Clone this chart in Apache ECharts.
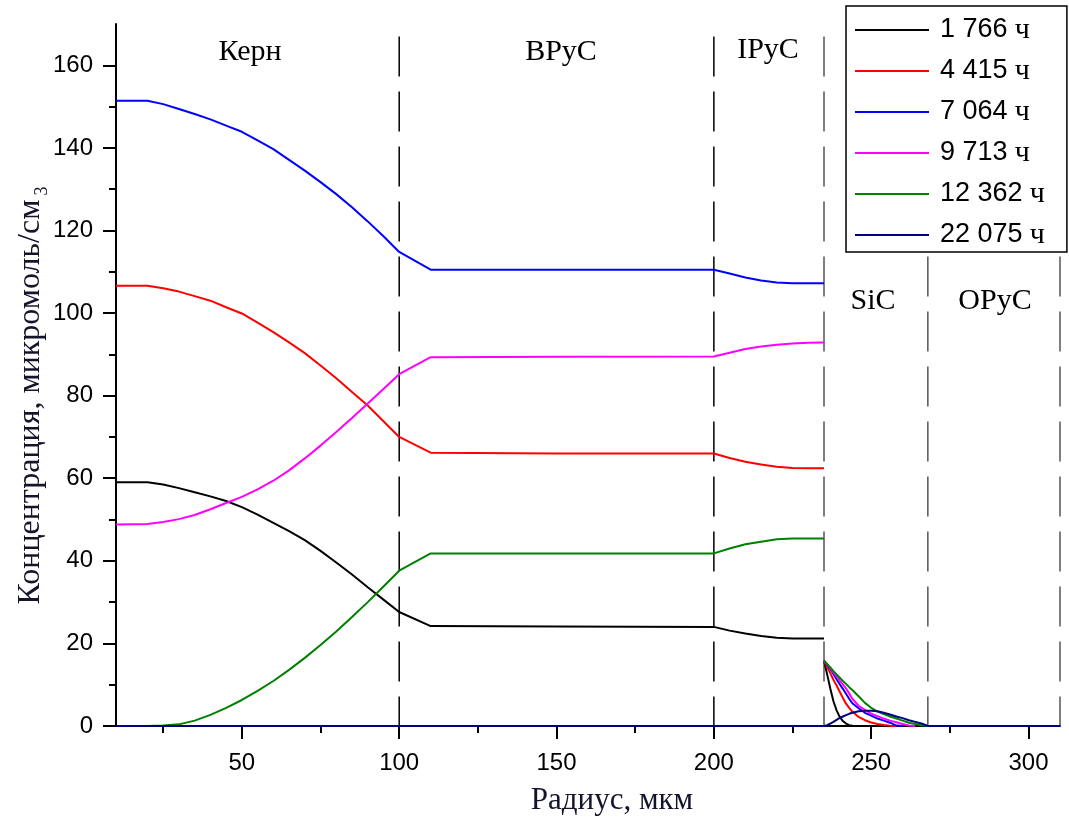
<!DOCTYPE html>
<html>
<head>
<meta charset="utf-8">
<script src="https://cdn.jsdelivr.net/npm/echarts@6/dist/echarts.min.js"></script>
<style>
  html, body { margin: 0; padding: 0; background: #fff; }
  #chart { width: 1069px; height: 820px; }
</style>
</head>
<body>
<div id="chart"></div>
<script>
// Radial positions (мкм) through kernel, buffer and IPyC layers
const radiusInner = [10, 20, 25, 30, 35, 40, 45, 50, 55, 60, 65, 70, 75, 80, 85, 90, 95, 100,
                     110, 150, 200, 205, 210, 215, 220, 225, 230, 235];
// Radial positions inside SiC layer
const radiusSiC = [235, 236, 237, 238, 239, 240, 241, 242, 243, 244, 246, 248, 250, 252, 254,
                   256, 258, 260, 262, 264, 266, 268];
const radiusOuterEnd = 310;

// Series labels (hours)
const seriesNames = ['1 766', '4 415', '7 064', '9 713', '12 362', '22 075'];
const seriesColors = ['#000000', '#ff0000', '#0000ff', '#ff00ff', '#008000', '#000080'];

// Concentrations, мкмоль/см3 — kernel/buffer/IPyC
const inner1766 = [59.0, 59.0, 58.5, 57.6, 56.6, 55.6, 54.5, 53.0, 51.2, 49.2, 47.2, 45.0, 42.4, 39.6,
                   36.7, 33.6, 30.6, 27.6, 24.2, 24.1, 24.0, 23.1, 22.4, 21.8, 21.4, 21.2, 21.2, 21.2];
const inner4415 = [106.6, 106.6, 106.0, 105.2, 104.1, 103.0, 101.4, 99.9, 97.7, 95.4, 92.9, 90.3, 87.3, 84.2,
                   80.9, 77.6, 73.8, 70.0, 66.2, 66.0, 66.0, 64.9, 64.0, 63.3, 62.8, 62.5, 62.4, 62.4];
const inner7064 = [151.4, 151.4, 150.6, 149.4, 148.2, 146.9, 145.4, 143.9, 141.8, 139.7, 137.1, 134.5, 131.7, 128.8,
                   125.6, 122.2, 118.6, 114.8, 110.5, 110.5, 110.5, 109.6, 108.6, 107.9, 107.4, 107.2, 107.2, 107.2];
const inner9713 = [48.8, 48.9, 49.4, 50.1, 51.1, 52.5, 54.0, 55.5, 57.3, 59.4, 61.9, 64.8, 67.9, 71.2,
                   74.6, 78.1, 81.6, 85.2, 89.3, 89.4, 89.5, 90.4, 91.3, 91.9, 92.3, 92.6, 92.8, 92.9];
const inner12362 = [0, 0, 0.1, 0.4, 1.3, 2.7, 4.4, 6.3, 8.5, 10.9, 13.6, 16.5, 19.6, 22.9,
                    26.4, 30.0, 33.8, 37.6, 41.8, 41.8, 41.8, 43.0, 44.0, 44.6, 45.2, 45.4, 45.4, 45.4];
const inner22075 = [0, 0, 0, 0, 0, 0, 0, 0, 0, 0, 0, 0, 0, 0,
                    0, 0, 0, 0, 0, 0, 0, 0, 0, 0, 0, 0, 0, 0];

// Concentrations in SiC layer
const sic1766 = [15.8, 12.5, 9.1, 6.0, 3.8, 2.2, 1.2, 0.6, 0.2, 0.05, 0, 0, 0, 0, 0, 0, 0, 0, 0, 0, 0, 0];
const sic4415 = [15.8, 14.3, 12.8, 11.2, 9.8, 8.3, 6.8, 5.4, 4.4, 3.5, 2.2, 1.4, 0.85, 0.5, 0.25, 0.05, 0, 0, 0, 0, 0, 0];
const sic7064 = [15.8, 14.8, 13.8, 12.6, 11.3, 10.1, 9.0, 7.8, 6.6, 5.5, 4.3, 3.2, 2.5, 1.8, 1.3, 0.8, 0.1, 0, 0, 0, 0, 0];
const sic9713 = [15.8, 14.9, 14.0, 13.0, 12.0, 11.0, 10.1, 9.1, 7.9, 6.6, 4.9, 3.9, 3.0, 2.4, 1.8, 1.3, 0.9, 0.5, 0.1, 0, 0, 0];
const sic12362 = [15.8, 15.0, 14.2, 13.3, 12.5, 11.7, 10.9, 10.2, 9.4, 8.7, 7.2, 5.6, 4.4, 3.5, 2.9, 2.3, 1.8, 1.3, 0.8, 0.5, 0.2, 0];
const sic22075 = [0, 0.2, 0.6, 1.0, 1.5, 1.95, 2.3, 2.65, 2.95, 3.2, 3.55, 3.7, 3.7, 3.55, 3.2, 2.8, 2.3, 1.9, 1.4, 1.0, 0.6, 0];

// Layer boundaries (мкм)
const boundaries = [100, 200, 235, 268, 310];
const boundaryColors = ['#000000', '#000000', '#555555', '#555555', '#555555'];
const boundaryTop = 167;

// Axis ticks
const xMajorTicks = [50, 100, 150, 200, 250, 300];
const xMinorTicks = [25, 75, 125, 175, 225, 275];
const yMajorTicks = [0, 20, 40, 60, 80, 100, 120, 140, 160];
const yMinorTicks = [10, 30, 50, 70, 90, 110, 130, 150];

const innerSets = [inner1766, inner4415, inner7064, inner9713, inner12362, inner22075];
const sicSets = [sic1766, sic4415, sic7064, sic9713, sic12362, sic22075];

const SANS = '"Liberation Sans", Arial, sans-serif';
const SERIF = '"Liberation Serif", "Times New Roman", serif';
const TITLE_COLOR = '#14142a';

function buildData(idx) {
  const data = radiusInner.map((r, k) => [r, innerSets[idx][k]]);
  const isLast = idx === innerSets.length - 1;
  if (!isLast) data.push([radiusSiC[0], '-']);
  const sic = sicSets[idx];
  for (let k = 0; k < radiusSiC.length; k++) {
    data.push([radiusSiC[k], sic[k]]);
    if (!isLast && k > 0 && sic[k] === 0) break;
  }
  if (isLast) data.push([radiusOuterEnd, 0]);
  return data;
}

const series = [];
boundaries.forEach((b, i) => {
  series.push({
    name: 'boundary' + i,
    type: 'line',
    data: [[b, boundaryTop], [b, 0]],
    showSymbol: false,
    silent: true,
    clip: false,
    z: 1,
    lineStyle: { color: boundaryColors[i], width: 1.5, type: [40, 15] }
  });
});
seriesNames.forEach((name, i) => {
  series.push({
    name: name,
    type: 'line',
    data: buildData(i),
    showSymbol: false,
    connectNulls: false,
    z: 3,
    color: seriesColors[i],
    lineStyle: { color: seriesColors[i], width: 2 }
  });
});

const chart = echarts.init(document.getElementById('chart'), null, { renderer: 'canvas' });
chart.setOption({
  animation: false,
  backgroundColor: '#ffffff',
  grid: { left: 116, right: 9, top: 24, bottom: 94 },
  xAxis: [
    {
      type: 'value', min: 10, max: 310, position: 'bottom',
      axisLine: { lineStyle: { color: '#000', width: 2 } },
      axisTick: { customValues: xMajorTicks, length: 13, lineStyle: { color: '#000', width: 2 } },
      axisLabel: { customValues: xMajorTicks, fontSize: 24, fontFamily: SANS, color: '#000', margin: 25 },
      splitLine: { show: false }
    },
    {
      type: 'value', min: 10, max: 310, position: 'bottom',
      axisLine: { show: false },
      axisTick: { customValues: xMinorTicks, length: 7, lineStyle: { color: '#000', width: 2 } },
      axisLabel: { show: false },
      splitLine: { show: false }
    }
  ],
  yAxis: [
    {
      type: 'value', min: 0, max: 170, position: 'left',
      axisLine: { show: true, lineStyle: { color: '#000', width: 2 } },
      axisTick: { show: true, customValues: yMajorTicks, length: 13, lineStyle: { color: '#000', width: 2 } },
      axisLabel: { customValues: yMajorTicks, fontSize: 24, fontFamily: SANS, color: '#000', margin: 23 },
      splitLine: { show: false }
    },
    {
      type: 'value', min: 0, max: 170, position: 'left',
      axisLine: { show: false },
      axisTick: { show: true, customValues: yMinorTicks, length: 7, lineStyle: { color: '#000', width: 2 } },
      axisLabel: { show: false },
      splitLine: { show: false }
    }
  ],
  legend: {
    data: seriesNames,
    orient: 'vertical',
    left: 846,
    top: 6,
    padding: [9, 22, 2, 9],
    itemWidth: 74,
    itemHeight: 2,
    itemGap: 11,
    icon: 'rect',
    backgroundColor: '#ffffff',
    borderColor: '#000',
    borderWidth: 1.5,
    borderRadius: 0,
    z: 10,
    formatter: name => '{n|' + name + '} {u|ч}',
    textStyle: {
      fontSize: 26,
      rich: {
        n: { fontSize: 27, fontFamily: SANS, color: '#000', padding: [0, 0, 0, 6] },
        u: { fontSize: 30, fontFamily: SERIF, color: '#000' }
      }
    }
  },
  graphic: [
    { type: 'text', x: 250, y: 52, style: { text: 'Керн', font: '30px ' + SERIF, fill: '#000', align: 'center', verticalAlign: 'middle' } },
    { type: 'text', x: 561, y: 52, style: { text: 'BPyC', font: '30px ' + SERIF, fill: '#000', align: 'center', verticalAlign: 'middle' } },
    { type: 'text', x: 768, y: 50, style: { text: 'IPyC', font: '30px ' + SERIF, fill: '#000', align: 'center', verticalAlign: 'middle' } },
    { type: 'text', x: 873, y: 301, style: { text: 'SiC', font: '30px ' + SERIF, fill: '#000', align: 'center', verticalAlign: 'middle' } },
    { type: 'text', x: 995, y: 301, style: { text: 'OPyC', font: '30px ' + SERIF, fill: '#000', align: 'center', verticalAlign: 'middle' } },
    { type: 'text', x: 612, y: 801, style: { text: 'Радиус, мкм', font: '31px ' + SERIF, fill: TITLE_COLOR, align: 'center', verticalAlign: 'middle' } },
    {
      type: 'text', x: 31, y: 402, rotation: Math.PI / 2,
      style: {
        text: 'Концентрация, микромоль/см',
        font: '32px ' + SERIF, fill: TITLE_COLOR,
        align: 'center', verticalAlign: 'middle'
      }
    },
    {
      type: 'text', x: 42, y: 191, rotation: Math.PI / 2,
      style: {
        text: '3',
        font: '18px ' + SERIF, fill: TITLE_COLOR,
        align: 'center', verticalAlign: 'middle'
      }
    }
  ],
  series: series
});
</script>
</body>
</html>
